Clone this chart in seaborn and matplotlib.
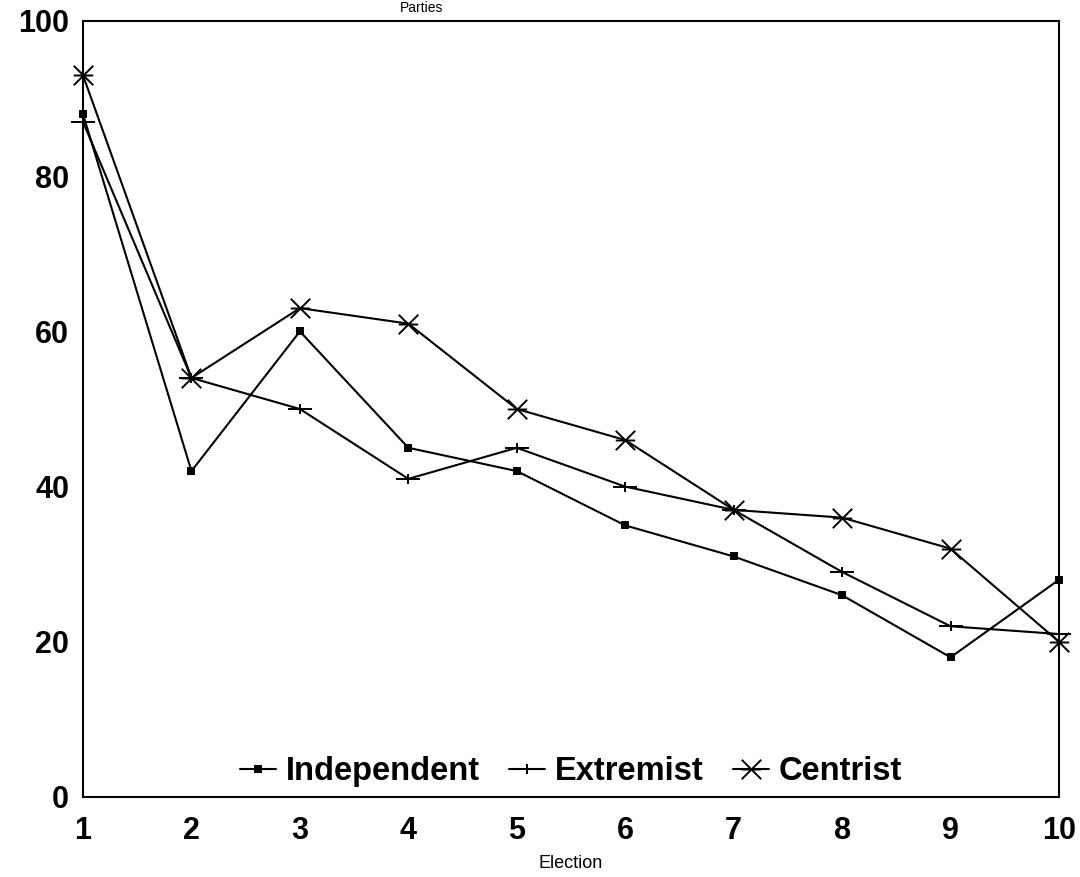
import matplotlib
matplotlib.use('Agg')
import matplotlib.pyplot as plt
from matplotlib.path import Path
import pandas as pd
import seaborn as sns

# values
elections = [1, 2, 3, 4, 5, 6, 7, 8, 9, 10]
independent = [88, 42, 60, 45, 42, 35, 31, 26, 18, 28]
extremist = [87, 54, 50, 41, 45, 40, 37, 29, 22, 21]
centrist = [93, 54, 63, 61, 50, 46, 37, 36, 32, 20]
parties = ["Independent", "Extremist", "Centrist"]

df = pd.DataFrame({"Election": elections,
                   "Independent": independent,
                   "Extremist": extremist,
                   "Centrist": centrist})
long_df = df.melt(id_vars="Election", var_name="Party", value_name="Value")

sns.set_theme(style="white")
plt.rcParams['font.family'] = ['Liberation Sans', 'DejaVu Sans']
plt.rcParams['text.color'] = 'black'

# custom markers: plus with a long bar, star = x with a horizontal bar
plus_path = Path([(-1, 0), (1, 0), (0, -0.45), (0, 0.45)],
                 [Path.MOVETO, Path.LINETO, Path.MOVETO, Path.LINETO])
star_path = Path([(-1, -1), (1, 1), (-1, 1), (1, -1), (-1, 0), (1, 0)],
                 [Path.MOVETO, Path.LINETO, Path.MOVETO, Path.LINETO,
                  Path.MOVETO, Path.LINETO])

fig = plt.figure(figsize=(10.8, 8.77), dpi=100)
ax = fig.add_axes([83 / 1080, 1 - 797 / 877, 976 / 1080, 776 / 877])

sns.lineplot(data=long_df, x="Election", y="Value", hue="Party", style="Party",
             hue_order=parties, style_order=parties,
             palette={p: "black" for p in parties},
             markers={"Independent": "s", "Extremist": plus_path, "Centrist": star_path},
             dashes=False, linewidth=1.5, ax=ax, legend=True)

# marker sizes per line
sizes = {"Independent": 5, "Extremist": 17, "Centrist": 14}
for line, p in zip(ax.lines, parties):
    line.set_markersize(sizes[p])
    line.set_markeredgewidth(1.4)
    line.set_markerfacecolor("black")
    line.set_markeredgecolor("black")
    line.set_clip_on(False)

ax.set_xlim(1, 10)
ax.set_ylim(0, 100)
ax.set_xticks(elections)
ax.set_yticks(range(0, 101, 20))
ax.tick_params(axis='both', labelsize=22, direction='in', colors='black')
ax.tick_params(axis='y', length=18, width=1, pad=10)
ax.tick_params(axis='x', length=6, width=0.8, pad=14)
for lbl in ax.get_xticklabels() + ax.get_yticklabels():
    lbl.set_fontweight('bold')
for s in ax.spines.values():
    s.set_visible(True)
    s.set_color('black')
    s.set_linewidth(1.5)

ax.set_xlabel("Election", fontsize=13, labelpad=6, color='black')
ax.set_ylabel("")

handles, labels = ax.get_legend_handles_labels()
for h, p in zip(handles, parties):
    h.set_markersize(sizes[p])
    h.set_color("black")
    h.set_markerfacecolor("black")
    h.set_markeredgecolor("black")
    h.set_markeredgewidth(1.4)
leg = ax.legend(handles, labels, loc='lower center', bbox_to_anchor=(0.5, -0.025),
                ncol=3, frameon=False, handlelength=1.1, handletextpad=0.3,
                columnspacing=0.9, prop={'size': 23.5, 'weight': 'bold'})
for t in leg.get_texts():
    t.set_color('black')

fig.text(422 / 1080, 1 - 8 / 877, "Parties", fontsize=10, ha='center', va='center',
         color='black')

fig.savefig("out.png", dpi=100)
